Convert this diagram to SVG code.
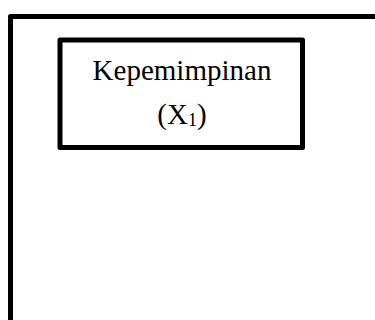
<svg xmlns="http://www.w3.org/2000/svg" width="375" height="320" viewBox="0 0 375 320">
  <style>
    .frame { fill: none; stroke: #000; stroke-width: 5; stroke-linejoin: round; }
    .label { font-family: "Liberation Serif", "Times New Roman", serif; font-size: 29px; fill: #000; text-anchor: middle; }
    .sub { font-size: 18px; }
  </style>
  <rect width="375" height="320" fill="#fff"/>
  <g id="connectors">
    <!-- outer bracket: top rule running off to the right, left rule running off the bottom -->
    <path class="frame" d="M10.5 330 V16.5 H380"/>
  </g>
  <g id="node-x1">
    <rect class="frame" x="60" y="40" width="242.5" height="107.5"/>
    <text class="label" x="182" y="80">Kepemimpinan</text>
    <text class="label" x="182" y="124">(X<tspan class="sub" dy="2">1</tspan><tspan dy="-2">)</tspan></text>
  </g>
</svg>
